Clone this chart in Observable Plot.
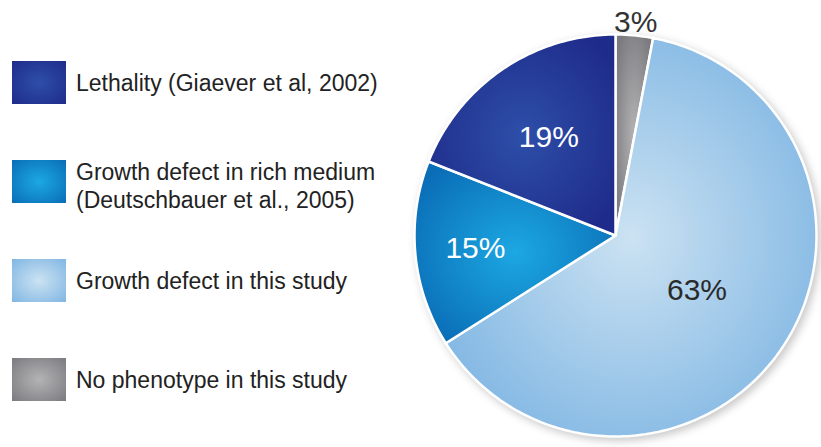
<!DOCTYPE html>
<html>
<head>
<meta charset="utf-8">
<script src="https://cdn.jsdelivr.net/npm/d3@7"></script>
<script src="https://cdn.jsdelivr.net/npm/@observablehq/plot@0.6"></script>
<style>
  html, body { margin: 0; padding: 0; background: #fff; }
  #wrap { position: relative; width: 821px; height: 447px; overflow: hidden; font-family: "Liberation Sans", Arial, sans-serif; }
  #legend { position: absolute; left: 12px; top: 61px; width: 400px; }
  .item { display: flex; align-items: center; height: 43px; margin-bottom: 56px; }
  .sw { width: 54px; height: 43px; flex: none; }
  .txt { margin-left: 10px; font-size: 23px; line-height: 28px; color: #222; white-space: nowrap; }
  #chart { position: absolute; left: 410px; top: 0; }
</style>
</head>
<body>
<div id="wrap">
  <div id="legend"></div>
  <div id="chart"></div>
</div>
<script>
// Slices, clockwise from 12 o'clock
const categories = ["No phenotype in this study", "Growth defect in this study", "Growth defect in rich medium", "Lethality"];
const values = [3, 63, 15, 19];
const labels = ["3%", "63%", "15%", "19%"];
// Legend (top to bottom)
const legendOrder = ["Lethality", "Growth defect in rich medium", "Growth defect in this study", "No phenotype in this study"];
const legendTexts = [
  ["Lethality (Giaever et al, 2002)"],
  ["Growth defect in rich medium", "(Deutschbauer et al., 2005)"],
  ["Growth defect in this study"],
  ["No phenotype in this study"]
];

// styling
const gradStops = {
  "No phenotype in this study": ["#b3b3b5", "#7b7b7f"],
  "Growth defect in this study": ["#cbe2f2", "#80b6e3"],
  "Growth defect in rich medium": ["#1ca8e2", "#0a6db7"],
  "Lethality": ["#2d4fa9", "#1f2b8a"]
};
const labelRadius = [1.065, 0.49, 0.70, 0.59];
const labelColors = ["#333", "#2a2a2a", "#fff", "#fff"];

// legend
const legend = document.getElementById("legend");
legendOrder.forEach((c, i) => {
  const it = document.createElement("div");
  it.className = "item";
  const sw = document.createElement("div");
  sw.className = "sw";
  const [a, b] = gradStops[c];
  sw.style.background = `radial-gradient(ellipse at 50% 50%, ${a} 0%, ${b} 100%)`;
  const tx = document.createElement("div");
  tx.className = "txt";
  tx.innerHTML = legendTexts[i].join("<br>");
  if (legendTexts[i].length > 1) tx.style.marginTop = "9px";
  it.appendChild(sw); it.appendChild(tx);
  legend.appendChild(it);
});

// pie geometry from data
const total = d3.sum(values);
const slices = [];
const labelPts = [];
let acc = 0;
values.forEach((v, i) => {
  const a0 = acc / total * 2 * Math.PI;
  acc += v;
  const a1 = acc / total * 2 * Math.PI;
  const n = Math.max(4, Math.ceil((a1 - a0) / (Math.PI / 180)));
  slices.push({cat: categories[i], x: 0, y: 0});
  for (let k = 0; k <= n; k++) {
    const a = a0 + (a1 - a0) * k / n;
    slices.push({cat: categories[i], x: Math.sin(a), y: Math.cos(a)});
  }
  const am = (a0 + a1) / 2;
  labelPts.push({label: labels[i], color: labelColors[i], x: labelRadius[i] * Math.sin(am), y: labelRadius[i] * Math.cos(am)});
});

const gradIds = categories.map((c, i) => `grad${i}`);

const chart = Plot.plot({
  width: 411,
  height: 447,
  marginLeft: 4,
  marginRight: 5,
  marginTop: 34,
  marginBottom: 11,
  x: {domain: [-1, 1], axis: null},
  y: {domain: [-1, 1], axis: null},
  color: {type: "ordinal", domain: categories, range: gradIds.map(id => `url(#${id})`)},
  style: {background: "transparent", overflow: "visible"},
  marks: [
    Plot.line(slices, {x: "x", y: "y", z: "cat", fill: "cat", stroke: "white", strokeWidth: 2.5, strokeLinejoin: "round", curve: "linear-closed"}),
    Plot.text(labelPts, {x: "x", y: "y", text: "label", fill: "color", fontSize: 30, fontFamily: "Liberation Sans, Arial, sans-serif"})
  ]
});

// gradient defs
const ns = "http://www.w3.org/2000/svg";
const defs = document.createElementNS(ns, "defs");
categories.forEach((c, i) => {
  const g = document.createElementNS(ns, "radialGradient");
  g.setAttribute("id", gradIds[i]);
  g.setAttribute("cx", "50%"); g.setAttribute("cy", "50%"); g.setAttribute("r", "60%");
  const [a, b] = gradStops[c];
  [[0, a], [1, b]].forEach(([o, col]) => {
    const s = document.createElementNS(ns, "stop");
    s.setAttribute("offset", o);
    s.setAttribute("stop-color", col);
    g.appendChild(s);
  });
  defs.appendChild(g);
});
chart.insertBefore(defs, chart.firstChild);
const lineG = chart.querySelector('g[aria-label="line"]');
if (lineG) lineG.style.filter = "drop-shadow(3px 3px 4px rgba(0,0,0,0.22))";
document.getElementById("chart").appendChild(chart);
</script>
</body>
</html>
